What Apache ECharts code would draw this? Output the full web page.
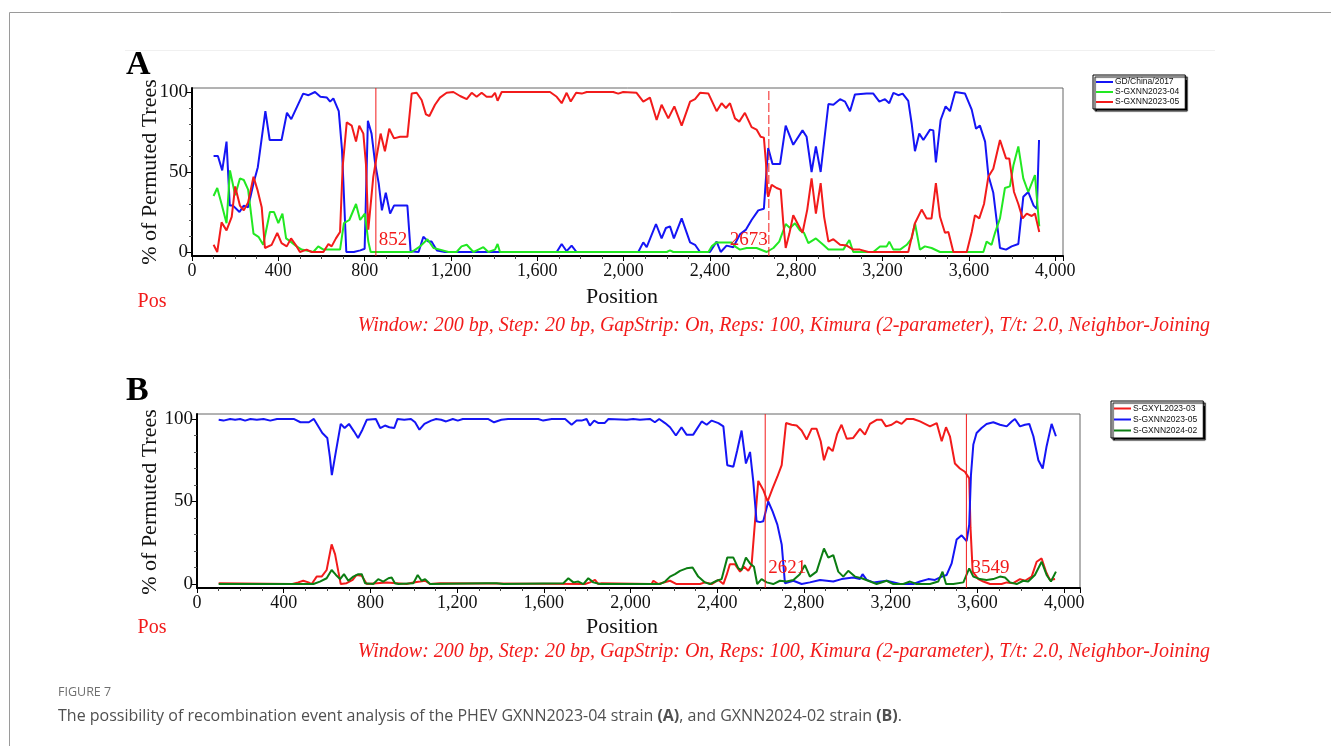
<!DOCTYPE html>
<html><head><meta charset="utf-8">
<script src="https://cdn.jsdelivr.net/npm/echarts@6/dist/echarts.min.js"></script>
<style>html,body{margin:0;padding:0;background:#fff;}#c{width:1331px;height:746px;}</style>
</head><body><div id="c"></div>
<script>
// ---------- DATA ----------
const xTickLabels = [0,400,800,1200,1600,2000,2400,2800,3200,3600,4000];
const yTickLabels = [0,50,100];
const namesA = ['GD/China/2017','S-GXNN2023-04','S-GXNN2023-05'];
const namesB = ['S-GXYL2023-03','S-GXNN2023-05','S-GXNN2024-02'];
const breakpointsA = [852, 2673];
const breakpointsB = [2621, 3549];

const A_blue = [[100,60],[120,60],[140,51],[160,69],[175,29],[190,29],[220,25],[240,29],[260,28],[285,43],[305,53],[340,88],[360,70],[415,70],[440,87],[460,83],[515,99],[540,98],[570,100],[595,97],[625,96.5],[640,94],[655,96],[680,88],[695,64],[715,0],[750,0],[780,1],[800,2],[815,82],[832,74],[848,56],[865,43],[880,26],[898,37],[918,24],[936,29],[998,29],[1013,0.5],[1050,0],[1072,9.5],[1095,6.5],[1110,6.5],[1135,1],[1172,0],[1690,0],[1713,5],[1736,0.5],[1759,4],[1782,0],[2068,0],[2091,6],[2107,3],[2150,17.5],[2176,8.5],[2196,15],[2215,16],[2233,8.5],[2269,21],[2308,6],[2331,4.5],[2354,0],[2400,0],[2431,6.5],[2450,0],[2477,4],[2508,3],[2539,11],[2567,14],[2593,20],[2624,26],[2650,27],[2660,47],[2670,65],[2690,55],[2725,55],[2751,79],[2786,67],[2829,76],[2848,72],[2871,50],[2891,66],[2913,50],[2949,92.5],[2972,92],[3003,95.5],[3026,94],[3049,88],[3072,98.5],[3126,99],[3157,99],[3185,94],[3211,95.5],[3231,93],[3250,99.5],[3273,98],[3293,99],[3319,94.5],[3335,80],[3350,63],[3370,74],[3389,70],[3420,76.5],[3435,76],[3447,56],[3469,82.5],[3492,91],[3512,88],[3536,100],[3582,99],[3613,89],[3633,77],[3651,79],[3675,69],[3690,48],[3713,37],[3744,2.5],[3772,1.5],[3798,3.5],[3829,5],[3852,34.5],[3875,37.5],[3900,29],[3915,27],[3925,70]];

const A_green = [[100,35],[117,40],[137,30],[160,18],[176,51],[200,35.5],[222,46],[240,45],[260,39],[285,11.5],[308,9.5],[330,4.5],[361,25],[380,25],[400,18],[419,24],[436,8.5],[457,6.5],[485,3.5],[508,1.5],[562,0],[585,3.5],[609,1.5],[686,1.5],[704,18],[729,20],[760,30],[779,20],[801,24],[817,6.5],[828,0],[1018,0],[1057,3.5],[1091,8],[1119,2.5],[1149,1.5],[1188,0],[1226,0],[1249,3.5],[1273,4.5],[1304,0],[1327,1.5],[1350,3],[1373,0],[1404,1.5],[1416,5],[1427,0],[2200,0],[2215,1],[2230,0],[2393,0],[2408,3.5],[2431,6],[2462,6],[2500,6],[2516,3.5],[2539,1.5],[2570,2.5],[2616,2.5],[2663,0],[2694,2.5],[2721,6.5],[2751,17.5],[2771,15],[2794,18],[2817,13.5],[2836,12],[2856,5.5],[2891,8.5],[2925,4.5],[2949,1.5],[2987,1.5],[3018,1.5],[3046,7.5],[3064,0],[3157,0],[3188,3.5],[3219,3.5],[3231,6.5],[3250,1.5],[3281,1.5],[3312,4.5],[3335,8.5],[3350,18],[3373,1.5],[3396,3.5],[3427,2.5],[3466,0],[3667,0],[3682,6.5],[3705,4.5],[3721,12],[3744,21],[3767,40],[3790,41],[3806,54],[3829,66],[3852,46],[3875,37.5],[3906,48],[3914,49],[3926,16]];

const A_red = [[100,4.5],[117,0],[137,18.5],[160,13.5],[184,22],[200,41],[222,29],[240,26],[260,31],[285,47],[303,39],[323,28],[338,2.5],[369,4.5],[395,12],[415,5.5],[439,3.5],[459,8.5],[485,3.5],[500,0],[531,1.5],[555,0],[609,0],[632,5],[647,3.5],[667,8.5],[686,12.5],[698,53],[717,81],[740,79],[760,69],[775,79],[794,74],[806,55],[817,14],[840,47],[856,60],[874,74],[894,63],[914,77],[936,71],[964,72],[998,72],[1018,99],[1041,99.5],[1064,95],[1084,86],[1100,85],[1126,92],[1149,96.5],[1180,99.5],[1211,100],[1242,97.5],[1273,95.5],[1296,99.5],[1319,97],[1342,99.5],[1365,97],[1389,97],[1404,99.5],[1416,94.5],[1435,100],[1659,100],[1690,97],[1713,93],[1736,99.5],[1755,94],[1780,99.5],[1806,99],[1829,100],[1952,100],[1975,99],[1998,100],[2060,99.5],[2091,94],[2122,96.5],[2153,82.5],[2176,92],[2207,83.5],[2235,91],[2269,79],[2308,94],[2331,95.5],[2354,99.5],[2393,99],[2431,88],[2454,93],[2474,90],[2493,93],[2516,83.5],[2536,81.5],[2562,87],[2593,78],[2616,76.5],[2635,72],[2650,71.5],[2660,55],[2666,37],[2670,34.5],[2686,42],[2709,40],[2728,39],[2740,18],[2751,2.5],[2768,11.5],[2786,23],[2809,17],[2829,12],[2851,26.5],[2871,46],[2891,24],[2913,43],[2929,22],[2949,6.5],[2972,8],[3003,4.5],[3034,4],[3064,1.5],[3095,1.5],[3134,0],[3319,0],[3350,18],[3381,26.5],[3404,21],[3427,21],[3447,43],[3466,22],[3489,12],[3505,12.5],[3528,0],[3590,0],[3613,12.5],[3628,23],[3648,21],[3670,30],[3690,47],[3713,52],[3744,70],[3772,58.5],[3787,58.5],[3809,37.5],[3829,30],[3849,21],[3868,24],[3891,22.5],[3906,24],[3926,12.5]];

const B_red = [[100,0.5],[440,0],[467,1],[490,2],[514,1],[529,0],[552,4.5],[575,4.5],[598,8.5],[621,24],[637,18],[652,7.5],[663,0],[690,0.5],[718,2.5],[736,5.5],[760,5],[783,0],[875,1],[921,0.5],[967,0],[998,1],[1029,1.5],[1052,2],[1075,0],[1121,0.5],[1790,0],[1813,1],[1836,2.5],[1851,0],[1866,0.5],[2097,0],[2105,2],[2128,0],[2182,2],[2212,0],[2320,0],[2343,1],[2374,0],[2405,2.5],[2428,0],[2443,5.5],[2458,12],[2481,12],[2505,7.5],[2523,10.5],[2543,8],[2558,11.5],[2574,38],[2589,62.5],[2612,57],[2632,50],[2655,58],[2677,65],[2697,72],[2717,97.5],[2743,96.5],[2766,96],[2789,93],[2812,87.5],[2835,94],[2858,94],[2877,86.5],[2892,75],[2912,83],[2932,80.5],[2953,91],[2973,96.5],[2997,88],[3027,88.5],[3058,94],[3081,90.5],[3104,97],[3135,99.5],[3158,99.5],[3178,95.5],[3204,96.5],[3227,98.5],[3250,97],[3273,100],[3304,100],[3335,98.5],[3358,97],[3381,95.5],[3412,97.5],[3435,86.5],[3455,95],[3473,89.5],[3496,73],[3519,70],[3542,68],[3562,64],[3568,34],[3578,7.5],[3604,3],[3627,1.5],[3658,0],[3711,0],[3735,1],[3765,0.5],[3796,3],[3819,2],[3850,4.5],[3873,13.5],[3896,15.5],[3916,7.5],[3934,2.5],[3958,3]];

const B_blue = [[100,99.5],[122,99],[153,100],[176,99.5],[199,100],[222,99],[246,100],[276,99.5],[307,100],[338,99],[369,100],[446,100],[477,98],[516,98],[539,100],[555,96.5],[578,91.5],[601,88.5],[613,77],[622,66],[639,79],[663,97],[681,94.5],[701,97],[724,92.5],[743,88.5],[763,93.5],[783,99.5],[825,100],[845,94.5],[867,96],[887,95],[910,94.5],[925,100],[956,99.5],[987,100],[1006,98],[1026,93.5],[1049,97],[1080,99],[1103,100],[1126,99.5],[1149,98.5],[1180,100],[1203,99],[1226,100],[1342,100],[1370,98],[1404,99.5],[1435,100],[1574,100],[1597,99],[1636,100],[1698,100],[1728,96.5],[1751,99],[1774,99],[1797,100],[1812,96],[1832,99],[1852,97.5],[1880,97.5],[1898,100],[1983,99.5],[2012,100],[2043,99.5],[2089,100],[2112,98],[2132,100],[2159,97.5],[2182,95],[2209,90],[2235,95],[2258,90.5],[2289,90.5],[2328,98.5],[2351,96.5],[2374,99],[2405,97.5],[2428,95.5],[2446,72],[2474,71],[2492,81],[2512,93],[2532,73],[2551,80],[2566,62],[2581,38],[2597,37.5],[2612,38],[2635,50],[2655,44],[2677,36],[2697,24],[2712,0.5],[2751,2],[2789,0],[2827,1],[2874,2.5],[2935,1.5],[2973,3],[3027,4],[3058,3],[3070,6],[3089,2.5],[3120,1],[3181,2],[3243,0],[3304,0],[3335,1.5],[3373,3],[3404,2.5],[3435,4.5],[3458,5.5],[3481,12.5],[3504,27],[3527,29.5],[3550,26],[3562,36],[3570,66],[3581,84.5],[3596,91.5],[3619,94.5],[3642,97],[3673,98],[3704,96.5],[3735,95.5],[3758,98.5],[3773,100],[3796,95.5],[3819,96.5],[3839,97],[3858,89.5],[3881,75],[3901,70],[3919,83.5],[3942,97],[3962,89.5]];

const B_green = [[100,0],[537,0],[567,1.5],[598,3.5],[621,8.5],[641,5.5],[660,3],[678,6],[698,2],[721,4.5],[744,6],[760,6],[775,0.5],[813,0],[836,3],[859,1.5],[883,3.5],[898,4],[913,0.5],[929,0],[998,0.5],[1018,5.5],[1036,2],[1052,3],[1075,0],[1336,0.5],[1382,0.5],[1413,0],[1690,0.5],[1713,3.5],[1736,1],[1759,1.5],[1782,0],[1805,3.5],[1828,1],[1859,0],[2135,0],[2159,1.5],[2182,4.5],[2205,6],[2228,8],[2258,9.5],[2286,10],[2312,4.5],[2343,1],[2366,0],[2397,2],[2420,3],[2446,16],[2474,16],[2497,9.5],[2512,8.5],[2532,16],[2551,12.5],[2569,10.5],[2584,0],[2604,3],[2628,1],[2658,0],[2689,2],[2720,1.5],[2751,2.5],[2781,6],[2804,11.5],[2827,4.5],[2858,7.5],[2892,21.5],[2912,16],[2935,17.5],[2958,7.5],[2981,4.5],[3004,8],[3035,4.5],[3066,3.5],[3096,2],[3135,0],[3181,2],[3212,0],[3258,0],[3289,1.5],[3319,0],[3381,0],[3419,1.5],[3439,7.5],[3455,0],[3489,0],[3535,1],[3562,9.5],[3581,4.5],[3612,3],[3642,2.5],[3673,3],[3704,4.5],[3727,4],[3750,1],[3781,0],[3811,2],[3834,1.5],[3865,5.5],[3896,13.5],[3919,5.5],[3939,1.5],[3962,7.5]];

// ---------- STYLE ----------
const SERIF = '"Liberation Serif","Times New Roman",serif';
const SANS = '"Liberation Sans",Arial,sans-serif';
const RED = '#f21b1b', BLUE = '#1515f5', LIME = '#22e822', DKGREEN = '#0b7d12';
const annot = 'Window: 200 bp, Step: 20 bp, GapStrip: On, Reps: 100, Kimura (2-parameter), T/t: 2.0, Neighbor-Joining';

function xAxisCfg(gi, max) {
  return {
    type: 'value', gridIndex: gi, min: 0, max: max, interval: 400,
    axisLine: { show: true, onZero: false, lineStyle: { color: '#000', width: 2 } },
    axisTick: { show: true, length: 5, lineStyle: { color: '#000', width: 1 } },
    minorTick: { show: true, splitNumber: 4, length: 3, lineStyle: { color: '#444', width: 1 } },
    splitLine: { show: false }, minorSplitLine: { show: false },
    axisLabel: { showMaxLabel: false, fontFamily: SERIF, fontSize: 18, color: '#111', margin: 6,
      formatter: v => xTickLabels.includes(v) ? v.toLocaleString('en-US') : '' }
  };
}
function yAxisCfg(gi, min, max) {
  return {
    type: 'value', gridIndex: gi, min: min, max: max, position: 'left',
    axisLine: { show: true, onZero: false, lineStyle: { color: '#000', width: 2 } },
    axisTick: { show: true, length: 5, customValues: yTickLabels, lineStyle: { color: '#000' } },
    axisLabel: { customValues: yTickLabels, fontFamily: SERIF, fontSize: 19, color: '#111', margin: 4 },
    splitLine: { show: false }
  };
}
function yMinorCfg(gi, min, max) {
  return {
    type: 'value', gridIndex: gi, min: min, max: max, position: 'left',
    axisLine: { show: false, onZero: false },
    axisTick: { show: true, length: 3, customValues: [10,20,30,40,60,70,80,90], lineStyle: { color: '#555' } },
    axisLabel: { show: false }, splitLine: { show: false }
  };
}
function lineSeries(name, data, xi, yi, color, z) {
  return { type: 'line', name: name, data: data, xAxisIndex: xi, yAxisIndex: yi,
    showSymbol: false, symbol: 'none', smooth: false, z: z,
    lineStyle: { color: color, width: 2 }, itemStyle: { color: color }, animation: false };
}
// a breakpoint line as its own series: value x from breakpoints array, spanning the y extent
function breakSeries(x, xi, yi, ymin, ymax, dashed) {
  return { type: 'line', data: [[x, ymin], [x, ymax]], xAxisIndex: xi, yAxisIndex: yi,
    showSymbol: false, symbol: 'none', z: 6, silent: true, animation: false,
    lineStyle: { color: RED, width: 1, type: dashed ? [9, 3] : 'solid' }, itemStyle: { color: RED } };
}
function legendCfg(names, left, top, lh) {
  return {
    data: names, left: left, top: top, orient: 'vertical', icon: 'rect',
    itemWidth: 17, itemHeight: 2, itemGap: 0, padding: [2, 6, 2, 3],
    backgroundColor: '#fff', borderColor: '#000', borderWidth: 1,
    shadowColor: '#000', shadowOffsetX: 2, shadowOffsetY: 2, shadowBlur: 1,
    selectedMode: false, z: 10,
    formatter: n => n.split('|')[1],
    textStyle: { fontFamily: SANS, fontSize: 8.5, lineHeight: lh, color: '#111', padding: [0, 0, 0, -3] }
  };
}

const chart = echarts.init(document.getElementById('c'), null, { renderer: 'canvas', width: 1331, height: 746 });
chart.setOption({
  animation: false,
  backgroundColor: '#fff',
  grid: [
    { left: 192, top: 88, width: 871, height: 168, show: true, borderColor: '#666', borderWidth: 1, backgroundColor: '#fff' },
    { left: 197, top: 414, width: 883, height: 174, show: true, borderColor: '#666', borderWidth: 1, backgroundColor: '#fff' }
  ],
  xAxis: [xAxisCfg(0, 4036), xAxisCfg(1, 4073)],
  yAxis: [yAxisCfg(0, -2.5, 102.5), yAxisCfg(1, -2.4, 103), yMinorCfg(0, -2.5, 102.5), yMinorCfg(1, -2.4, 103)],
  legend: [
    legendCfg(namesA.map(n => 'A|' + n), 1093, 75, 10),
    legendCfg(namesB.map(n => 'B|' + n), 1111, 401, 11)
  ],
  series: [
    lineSeries('A|' + namesA[0], A_blue, 0, 0, BLUE, 2),
    lineSeries('A|' + namesA[1], A_green, 0, 0, LIME, 3),
    lineSeries('A|' + namesA[2], A_red, 0, 0, RED, 4),
    breakSeries(breakpointsA[0], 0, 0, -2.5, 102.5, false),
    breakSeries(breakpointsA[1], 0, 0, -2.5, 102.5, true),
    lineSeries('B|' + namesB[0], B_red, 1, 1, RED, 2),
    lineSeries('B|' + namesB[1], B_blue, 1, 1, BLUE, 3),
    lineSeries('B|' + namesB[2], B_green, 1, 1, DKGREEN, 4),
    breakSeries(breakpointsB[0], 1, 1, -2.4, 103, false),
    breakSeries(breakpointsB[1], 1, 1, -2.4, 103, false)
  ]
});

// ---------- TEXT / DECORATION ----------
function txt(x, y, text, font, fill, align, vAlign, rot) {
  return { type: 'text', x: x, y: y, rotation: rot || 0, z: 20, silent: true,
    style: { text: text, font: font, fill: fill, align: align || 'left', verticalAlign: vAlign || 'middle' } };
}
const pA = v => chart.convertToPixel({ xAxisIndex: 0, yAxisIndex: 0 }, v);
const pB = v => chart.convertToPixel({ xAxisIndex: 1, yAxisIndex: 1 }, v);
const m852 = pA([breakpointsA[0], 7.5]);
const m2673 = pA([breakpointsA[1], 7.5]);
const m2621 = pB([breakpointsB[0], 9.5]);
const m3549 = pB([breakpointsB[1], 9.5]);
const markFont = '19px ' + SERIF;

const graphics = [
  { type: 'line', silent: true, z: 1, shape: { x1: 9.5, y1: 12.5, x2: 1331, y2: 12.5 }, style: { stroke: '#9a9a9a', lineWidth: 1 } },
  { type: 'line', silent: true, z: 1, shape: { x1: 9.5, y1: 12.5, x2: 9.5, y2: 746 }, style: { stroke: '#9a9a9a', lineWidth: 1 } },
  { type: 'line', silent: true, z: 1, shape: { x1: 125, y1: 50.5, x2: 1215, y2: 50.5 }, style: { stroke: '#f0f0f0', lineWidth: 1 } },
  txt(126, 65, 'A', 'bold 34px ' + SERIF, '#000'),
  txt(126, 391, 'B', 'bold 34px ' + SERIF, '#000'),
  txt(150, 172, '% of Permuted Trees', '22px ' + SERIF, '#111', 'center', 'middle', Math.PI / 2),
  txt(150, 502, '% of Permuted Trees', '22px ' + SERIF, '#111', 'center', 'middle', Math.PI / 2),
  txt(622, 297, 'Position', '22px ' + SERIF, '#111', 'center'),
  txt(622, 627, 'Position', '22px ' + SERIF, '#111', 'center'),
  txt(152, 302, 'Pos', '20px ' + SERIF, RED, 'center'),
  txt(152, 628, 'Pos', '20px ' + SERIF, RED, 'center'),
  txt(1210, 326, annot, 'italic 20px ' + SERIF, RED, 'right'),
  txt(1210, 652, annot, 'italic 20px ' + SERIF, RED, 'right'),
  txt(m852[0] + 3, m852[1], String(breakpointsA[0]), markFont, RED, 'left'),
  txt(m2673[0] - 1, m2673[1], String(breakpointsA[1]), markFont, RED, 'right'),
  txt(m2621[0] + 3, m2621[1], String(breakpointsB[0]), markFont, RED, 'left'),
  txt(m3549[0] + 5, m3549[1], String(breakpointsB[1]), markFont, RED, 'left'),
  txt(58, 692, 'FIGURE 7', '12.5px "Open Sans"', '#6f6f6f', 'left'),
  { type: 'text', x: 58, y: 716, z: 20, silent: true,
    style: { text: '{n|The possibility of recombination event analysis of the PHEV GXNN2023-04 strain }{b|(A)}{n|, and GXNN2024-02 strain }{b|(B)}{n|.}',
      verticalAlign: 'middle', align: 'left',
      rich: { n: { font: '16px "Open Sans"', fill: '#505050' }, b: { font: 'bold 16px "Open Sans"', fill: '#505050' } } } }
];
chart.setOption({ graphic: graphics });
</script>
</body></html>
